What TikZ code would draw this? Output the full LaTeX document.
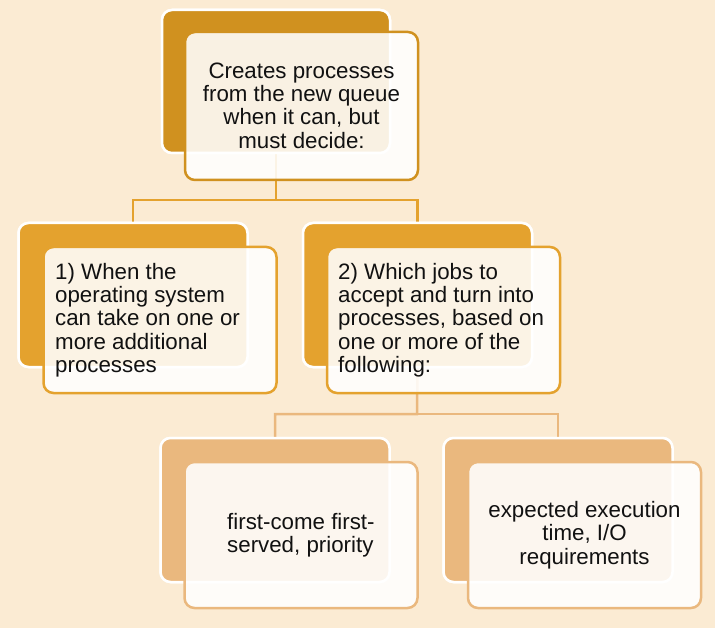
\documentclass[tikz,border=0pt]{standalone}
\usepackage{fontspec}
\setmainfont{Liberation Sans}
\definecolor{bg}{HTML}{FBEBD3}
\definecolor{cA}{HTML}{D0911F}
\definecolor{cB}{HTML}{E4A22E}
\definecolor{cC}{HTML}{EAB87E}
\definecolor{txt}{HTML}{111111}
\begin{document}
\begin{tikzpicture}[x=1pt,y=-1pt,
  backbox/.style={draw=white, line width=2.5pt, rounded corners=10pt, minimum width=229pt, minimum height=144pt, inner sep=0pt},
  frontbox/.style={line width=2.5pt, rounded corners=10pt, fill=white, fill opacity=0.88, minimum width=233pt, minimum height=146pt, inner sep=0pt},
  label/.style={text=txt, inner sep=0pt, font=\fontsize{22.3}{23.3}\selectfont},
  link/.style={line width=2.5pt}
]
\useasboundingbox[fill=bg] (0,0) rectangle (715,628);
% coordinates for joints
\coordinate (j1) at (276,200);
\coordinate (j2) at (417,414);
% back boxes
\node[backbox, fill=cA, minimum width=228pt, minimum height=143pt] (b0) at (276,81.5) {};
\node[backbox, fill=cB] (b1) at (133,295) {};
\node[backbox, fill=cB] (b2) at (417.5,295) {};
\node[backbox, fill=cC] (b3) at (275,510) {};
\node[backbox, fill=cC] (b4) at (558,510) {};
% connectors (behind front boxes)
\begin{scope}[on background layer/.style={}]
\end{scope}
\draw[link, cB] (b0.south) -- (j1) -| (b1.north);
\draw[link, cB] (j1) -| (b2.north);
\draw[link, cC] (b2.south) -- (j2) -| (b3.north);
\draw[link, cC] (j2) -| (b4.north);
% redraw back boxes over connectors
\node[backbox, fill=cA, minimum width=228pt, minimum height=143pt] at (276,81.5) {};
\node[backbox, fill=cB] at (133,295) {};
\node[backbox, fill=cB] at (417.5,295) {};
\node[backbox, fill=cC] at (275,510) {};
\node[backbox, fill=cC] at (558,510) {};
% front boxes
\node[frontbox, draw=cA, minimum height=148pt] (f0) at (301.5,106) {};
\node[frontbox, draw=cB] (f1) at (160,320) {};
\node[frontbox, draw=cB] (f2) at (443.5,320) {};
\node[frontbox, draw=cC] (f3) at (301,535) {};
\node[frontbox, draw=cC] (f4) at (584.5,535) {};
% texts
\node[label, align=center] (t0) at (301.5,105.5) {Creates processes\\from the new queue\\when it can, but\\must decide:};
\node[label, align=left, anchor=west] (t1) at (55,320) {1) When the\\operating system\\can take on one or\\more additional\\processes};
\node[label, align=left, anchor=west] (t2) at (338,320) {2) Which jobs to\\accept and turn into\\processes, based on\\one or more of the\\following:};
\node[label, align=left, anchor=west] (t3) at (227,535.5) {first-come first-\\served, priority};
\node[label, align=center] (t4) at (584.5,535) {expected execution\\time, I/O\\requirements};
\end{tikzpicture}
\end{document}
